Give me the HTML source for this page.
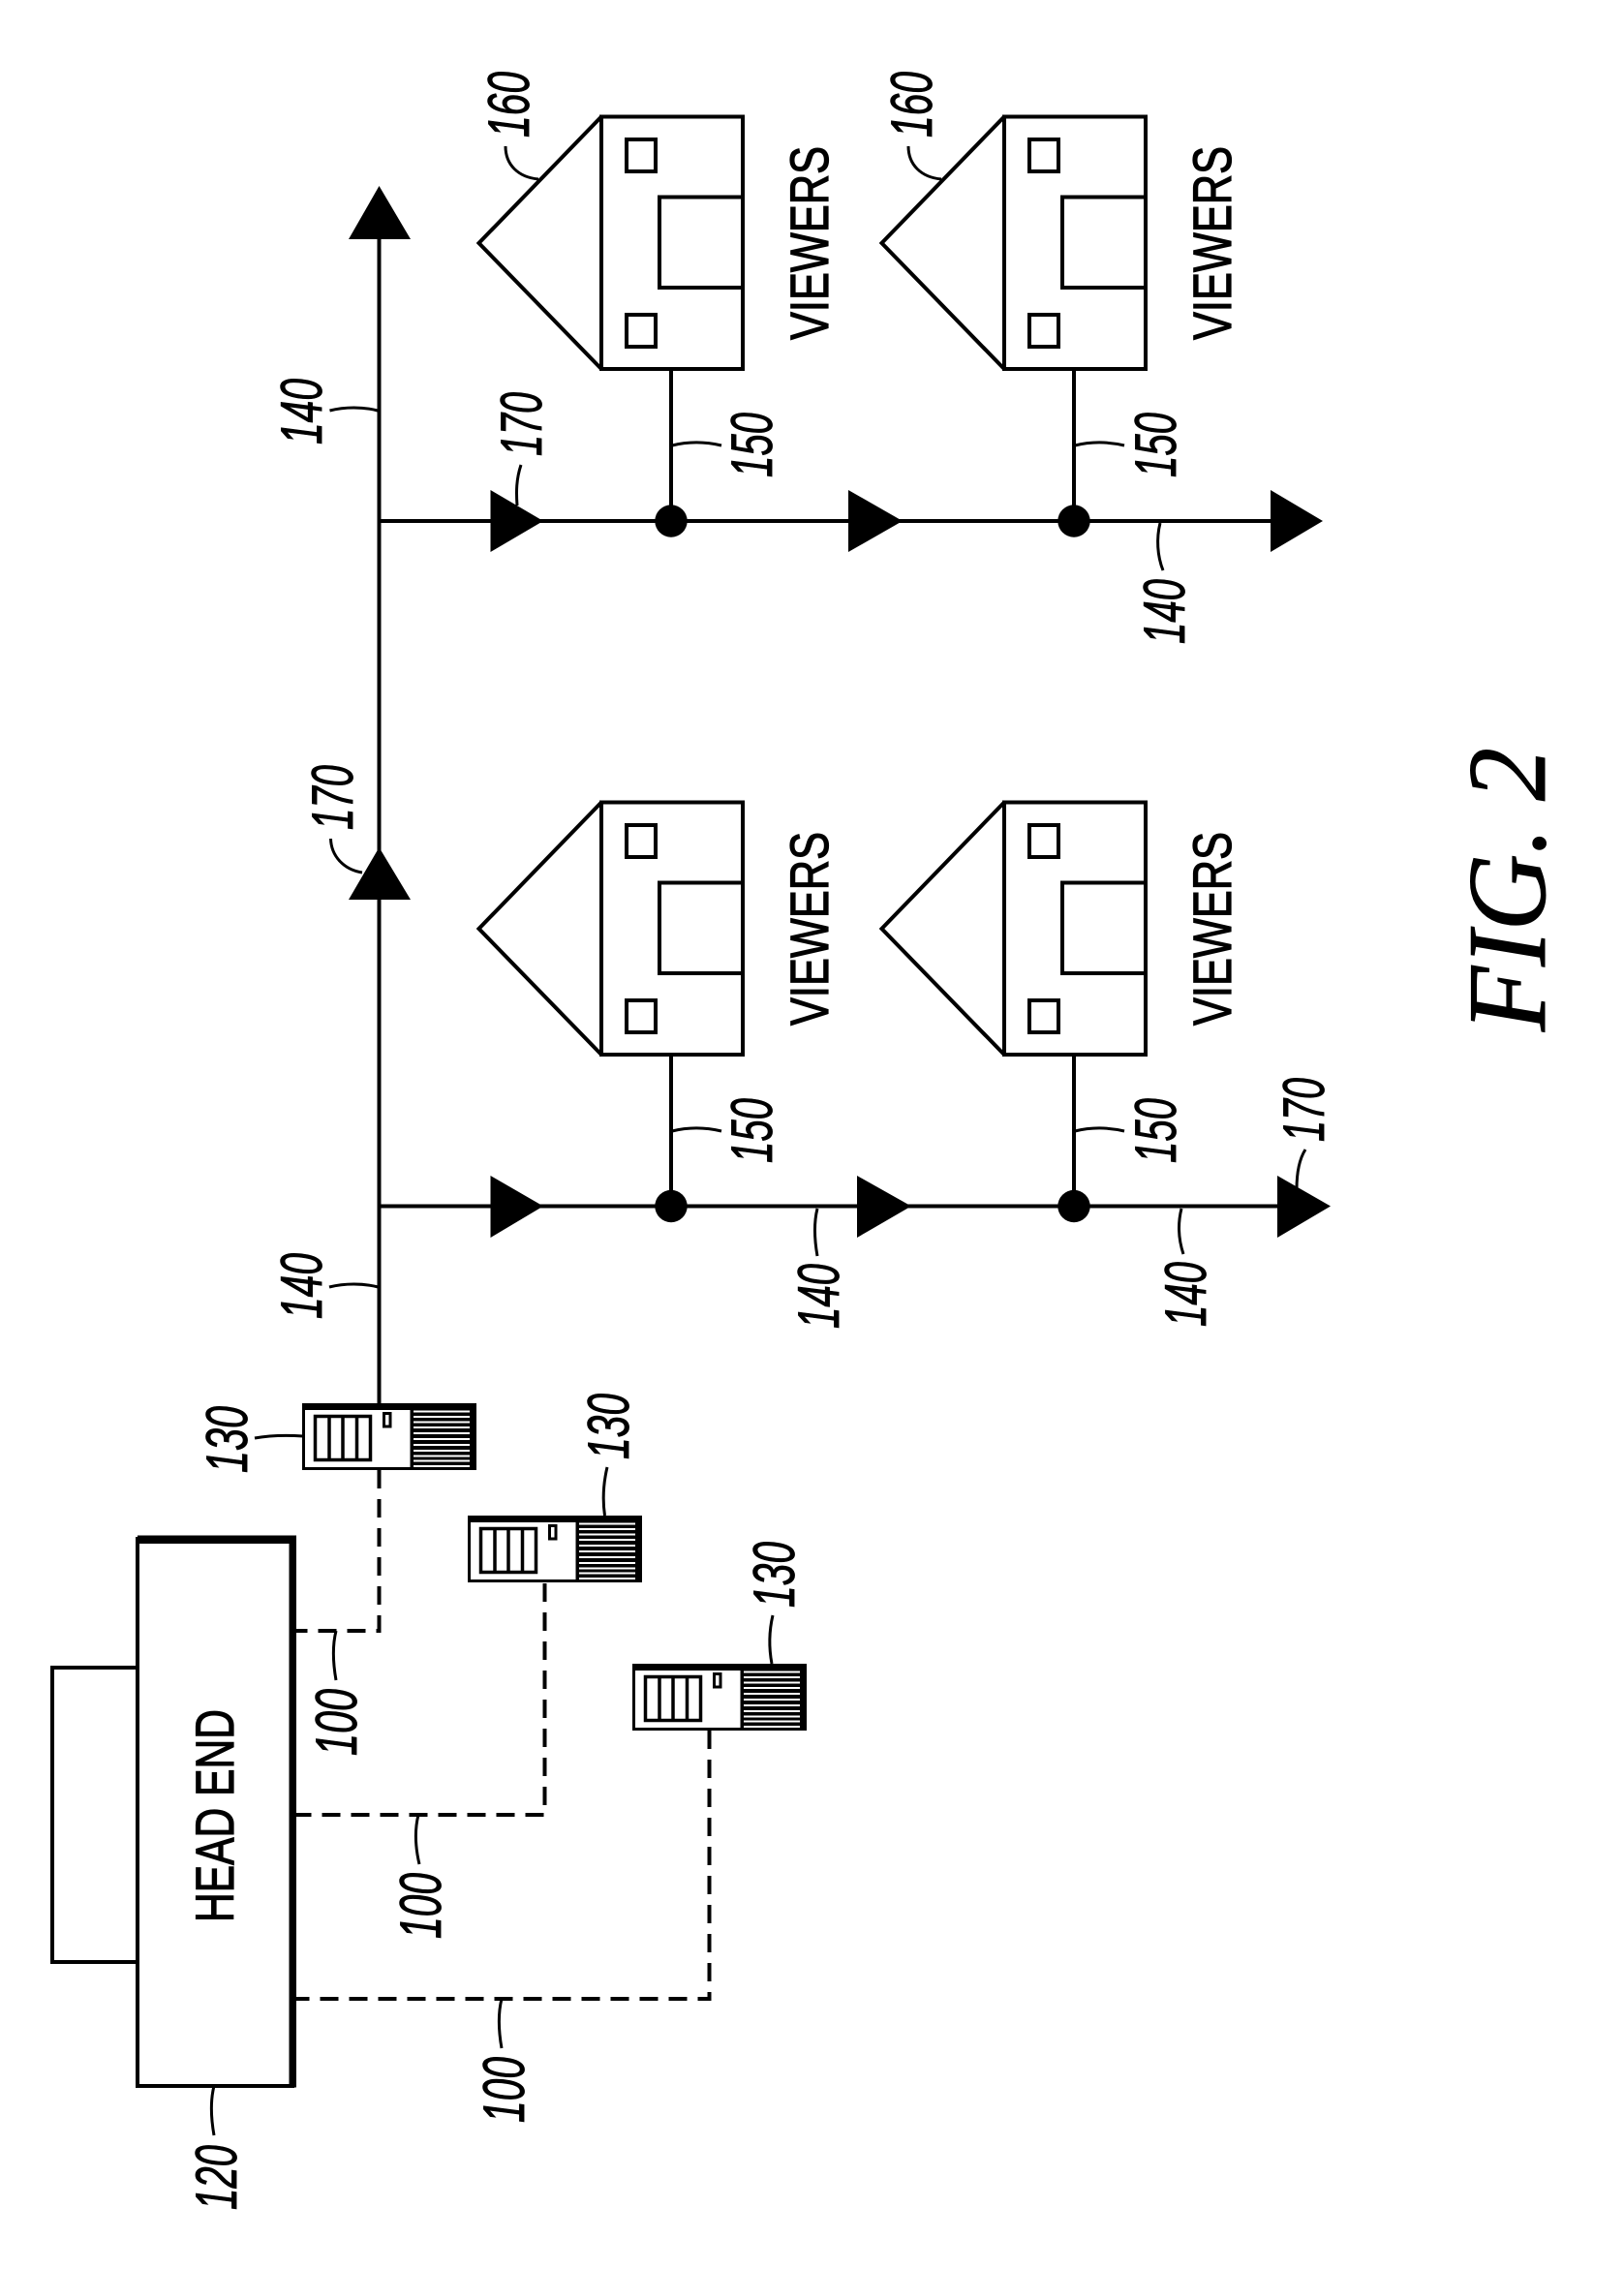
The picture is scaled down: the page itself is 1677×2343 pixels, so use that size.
<!DOCTYPE html>
<html><head><meta charset="utf-8"><style>
html,body{margin:0;padding:0;background:#fff}
svg{display:block}
.l{font-family:"Liberation Sans",sans-serif;font-style:italic;font-size:60px;fill:#000;stroke:#000;stroke-width:.9}
.t{font-family:"Liberation Sans",sans-serif;font-size:56px;fill:#000;stroke:#000;stroke-width:1.2}
.f{font-family:"Liberation Serif",serif;font-style:italic;font-size:116px;fill:#000;stroke:#000;stroke-width:1}
.s{fill:none;stroke:#000;stroke-width:4}
.n{fill:none;stroke:#000;stroke-width:3}
.c{fill:none;stroke:#000;stroke-width:3.5}
</style></head><body>
<svg xmlns="http://www.w3.org/2000/svg" width="1677" height="2343" viewBox="0 0 1677 2343">
<rect width="1677" height="2343" fill="#fff"/>

<!-- main lines -->
<path class="s" d="M391.5 1450V200M391.5 538H1320M391.5 1245.5H1330M693 381V538M1109 381V538M693 1089V1245.5M1109 1089V1245.5"/>
<g fill="#000">
<polygon points="391.5,192 360,247 424,247"/>
<polygon points="391.5,875 360,929 424,929"/>
<polygon points="506.5,506 561,538 506.5,570"/>
<polygon points="876,506 932,538 876,570"/>
<polygon points="1312,506 1366,538 1312,570"/>
<polygon points="506.5,1214 561,1245.5 506.5,1278"/>
<polygon points="885,1214 941,1245.5 885,1278"/>
<polygon points="1319,1214 1374,1245.5 1319,1278"/>
<circle cx="693" cy="538" r="16.7"/>
<circle cx="1109" cy="538" r="16.7"/>
<circle cx="693" cy="1245.5" r="16.7"/>
<circle cx="1109" cy="1245.5" r="16.7"/>
</g>

<!-- houses -->
<g>
<path class="s" d="M621 120.5L494.5 251L621 381"/>
<rect class="s" x="621" y="120.5" width="146" height="260.5"/>
<rect class="s" x="647" y="144" width="30" height="33"/>
<rect class="s" x="647" y="325" width="30" height="33"/>
<path class="s" d="M767 203.5H681V297H767"/>
</g>
<g transform="translate(416 0)">
<path class="s" d="M621 120.5L494.5 251L621 381"/>
<rect class="s" x="621" y="120.5" width="146" height="260.5"/>
<rect class="s" x="647" y="144" width="30" height="33"/>
<rect class="s" x="647" y="325" width="30" height="33"/>
<path class="s" d="M767 203.5H681V297H767"/>
</g>
<g transform="translate(0 708)">
<path class="s" d="M621 120.5L494.5 251L621 381"/>
<rect class="s" x="621" y="120.5" width="146" height="260.5"/>
<rect class="s" x="647" y="144" width="30" height="33"/>
<rect class="s" x="647" y="325" width="30" height="33"/>
<path class="s" d="M767 203.5H681V297H767"/>
</g>
<g transform="translate(416 708)">
<path class="s" d="M621 120.5L494.5 251L621 381"/>
<rect class="s" x="621" y="120.5" width="146" height="260.5"/>
<rect class="s" x="647" y="144" width="30" height="33"/>
<rect class="s" x="647" y="325" width="30" height="33"/>
<path class="s" d="M767 203.5H681V297H767"/>
</g>

<!-- VIEWERS -->
<text class="t" transform="translate(855 351) rotate(-90)" textLength="200" lengthAdjust="spacingAndGlyphs">VIEWERS</text>
<text class="t" transform="translate(1271 351) rotate(-90)" textLength="200" lengthAdjust="spacingAndGlyphs">VIEWERS</text>
<text class="t" transform="translate(855 1059) rotate(-90)" textLength="200" lengthAdjust="spacingAndGlyphs">VIEWERS</text>
<text class="t" transform="translate(1271 1059) rotate(-90)" textLength="200" lengthAdjust="spacingAndGlyphs">VIEWERS</text>

<!-- head end -->
<rect class="s" x="54" y="1722" width="88" height="304"/>
<rect x="142" y="1589" width="160" height="565" fill="#fff" stroke="#000" stroke-width="4"/>
<rect x="142" y="1585.5" width="164" height="8.5" fill="#000"/>
<rect x="298.5" y="1585.5" width="7.5" height="570" fill="#000"/>
<text class="t" transform="translate(241 1985) rotate(-90)" textLength="220" lengthAdjust="spacingAndGlyphs">HEAD END</text>

<!-- dashed -->
<g fill="none" stroke="#000" stroke-width="4" stroke-dasharray="19 11">
<path d="M391.5 1518V1684H306"/>
<path d="M562.5 1635V1874H306"/>
<path d="M732.5 1787V2064H306"/>
</g>

<!-- servers -->
<g>
<rect x="312" y="1449" width="180" height="69" fill="#000"/>
<rect x="315" y="1456" width="108.5" height="59" fill="#fff"/>
<g fill="#fff">
<rect x="427" y="1456.5" width="58" height="2"/><rect x="427" y="1462" width="58" height="2"/><rect x="427" y="1467.5" width="58" height="2"/><rect x="427" y="1473" width="58" height="2"/><rect x="427" y="1479" width="58" height="2"/><rect x="427" y="1485" width="58" height="2"/><rect x="427" y="1491" width="58" height="2"/><rect x="427" y="1497" width="58" height="2"/><rect x="427" y="1502.5" width="58" height="2"/><rect x="427" y="1507.5" width="58" height="2"/><rect x="427" y="1513" width="58" height="2"/>
</g>
<rect class="c" x="325.5" y="1462.5" width="57" height="45"/>
<path class="c" d="M340 1462.5V1507.5M354 1462.5V1507.5M368.5 1462.5V1507.5"/>
<rect class="n" x="396.5" y="1459.5" width="6.5" height="13.5"/>
</g>
<g transform="translate(171 116)">
<rect x="312" y="1449" width="180" height="69" fill="#000"/>
<rect x="315" y="1456" width="108.5" height="59" fill="#fff"/>
<g fill="#fff">
<rect x="427" y="1456.5" width="58" height="2"/><rect x="427" y="1462" width="58" height="2"/><rect x="427" y="1467.5" width="58" height="2"/><rect x="427" y="1473" width="58" height="2"/><rect x="427" y="1479" width="58" height="2"/><rect x="427" y="1485" width="58" height="2"/><rect x="427" y="1491" width="58" height="2"/><rect x="427" y="1497" width="58" height="2"/><rect x="427" y="1502.5" width="58" height="2"/><rect x="427" y="1507.5" width="58" height="2"/><rect x="427" y="1513" width="58" height="2"/>
</g>
<rect class="c" x="325.5" y="1462.5" width="57" height="45"/>
<path class="c" d="M340 1462.5V1507.5M354 1462.5V1507.5M368.5 1462.5V1507.5"/>
<rect class="n" x="396.5" y="1459.5" width="6.5" height="13.5"/>
</g>
<g transform="translate(341 269)">
<rect x="312" y="1449" width="180" height="69" fill="#000"/>
<rect x="315" y="1456" width="108.5" height="59" fill="#fff"/>
<g fill="#fff">
<rect x="427" y="1456.5" width="58" height="2"/><rect x="427" y="1462" width="58" height="2"/><rect x="427" y="1467.5" width="58" height="2"/><rect x="427" y="1473" width="58" height="2"/><rect x="427" y="1479" width="58" height="2"/><rect x="427" y="1485" width="58" height="2"/><rect x="427" y="1491" width="58" height="2"/><rect x="427" y="1497" width="58" height="2"/><rect x="427" y="1502.5" width="58" height="2"/><rect x="427" y="1507.5" width="58" height="2"/><rect x="427" y="1513" width="58" height="2"/>
</g>
<rect class="c" x="325.5" y="1462.5" width="57" height="45"/>
<path class="c" d="M340 1462.5V1507.5M354 1462.5V1507.5M368.5 1462.5V1507.5"/>
<rect class="n" x="396.5" y="1459.5" width="6.5" height="13.5"/>
</g>

<!-- leaders -->
<g>
<path class="n" d="M522 151C522 170 535 183 556 185"/>
<path class="n" d="M938 151C938 170 951 183 972 185"/>
<path class="n" d="M340.5 424C356 420 375 420 390 424"/>
<path class="n" d="M538 480C533 495 533 508 534 522"/>
<path class="n" d="M745 460C728 456 710 456 694 460"/>
<path class="n" d="M1161 460C1144 456 1126 456 1110 460"/>
<path class="n" d="M745 1168C728 1164 710 1164 694 1168"/>
<path class="n" d="M1161 1168C1144 1164 1126 1164 1110 1168"/>
<path class="n" d="M1198 540C1194 556 1195 574 1201 589"/>
<path class="n" d="M1348 1187C1341 1198 1339 1212 1339 1228"/>
<path class="n" d="M1220 1248C1216 1264 1217 1280 1222 1295"/>
<path class="n" d="M844 1248C840 1264 841 1280 844 1297"/>
<path class="n" d="M341.5 866C342 884 355 898 374 901"/>
<path class="n" d="M340 1329C356 1325 375 1325 390.5 1329"/>
<path class="n" d="M263 1485C280 1482 298 1482 313 1483"/>
<path class="n" d="M627 1515C623 1532 622 1548 624.5 1565"/>
<path class="n" d="M798 1668C794 1685 794 1702 797 1718"/>
<path class="n" d="M347 1684C343 1700 344 1718 347 1735"/>
<path class="n" d="M432 1874C428 1890 429 1908 433 1925"/>
<path class="n" d="M518 2064C514 2080 515 2098 518 2115"/>
<path class="n" d="M221 2154C217 2170 218 2188 221 2205"/>
</g>

<!-- labels -->
<text class="l" transform="translate(546 142) rotate(-90)" textLength="68" lengthAdjust="spacingAndGlyphs">160</text>
<text class="l" transform="translate(962 142) rotate(-90)" textLength="68" lengthAdjust="spacingAndGlyphs">160</text>
<text class="l" transform="translate(332 459) rotate(-90)" textLength="68" lengthAdjust="spacingAndGlyphs">140</text>
<text class="l" transform="translate(559 471) rotate(-90)" textLength="66" lengthAdjust="spacingAndGlyphs">170</text>
<text class="l" transform="translate(797 493) rotate(-90)" textLength="67" lengthAdjust="spacingAndGlyphs">150</text>
<text class="l" transform="translate(1214 493) rotate(-90)" textLength="67" lengthAdjust="spacingAndGlyphs">150</text>
<text class="l" transform="translate(1223 665) rotate(-90)" textLength="67" lengthAdjust="spacingAndGlyphs">140</text>
<text class="l" transform="translate(364 857) rotate(-90)" textLength="67" lengthAdjust="spacingAndGlyphs">170</text>
<text class="l" transform="translate(797 1201) rotate(-90)" textLength="67" lengthAdjust="spacingAndGlyphs">150</text>
<text class="l" transform="translate(1214 1201) rotate(-90)" textLength="67" lengthAdjust="spacingAndGlyphs">150</text>
<text class="l" transform="translate(1367 1179) rotate(-90)" textLength="66" lengthAdjust="spacingAndGlyphs">170</text>
<text class="l" transform="translate(332 1362) rotate(-90)" textLength="68" lengthAdjust="spacingAndGlyphs">140</text>
<text class="l" transform="translate(866 1372) rotate(-90)" textLength="67" lengthAdjust="spacingAndGlyphs">140</text>
<text class="l" transform="translate(1245 1370) rotate(-90)" textLength="67" lengthAdjust="spacingAndGlyphs">140</text>
<text class="l" transform="translate(255 1521) rotate(-90)" textLength="69" lengthAdjust="spacingAndGlyphs">130</text>
<text class="l" transform="translate(649 1507) rotate(-90)" textLength="68" lengthAdjust="spacingAndGlyphs">130</text>
<text class="l" transform="translate(820 1660) rotate(-90)" textLength="68" lengthAdjust="spacingAndGlyphs">130</text>
<text class="l" transform="translate(368 1813) rotate(-90)" textLength="69" lengthAdjust="spacingAndGlyphs">100</text>
<text class="l" transform="translate(455 2002) rotate(-90)" textLength="68" lengthAdjust="spacingAndGlyphs">100</text>
<text class="l" transform="translate(541 2192) rotate(-90)" textLength="68" lengthAdjust="spacingAndGlyphs">100</text>
<text class="l" transform="translate(244 2282) rotate(-90)" textLength="67" lengthAdjust="spacingAndGlyphs">120</text>

<!-- FIG. 2 -->
<text class="f" transform="translate(1595 1065) rotate(-90)" textLength="293" lengthAdjust="spacingAndGlyphs">FIG. 2</text>
</svg>
</body></html>
